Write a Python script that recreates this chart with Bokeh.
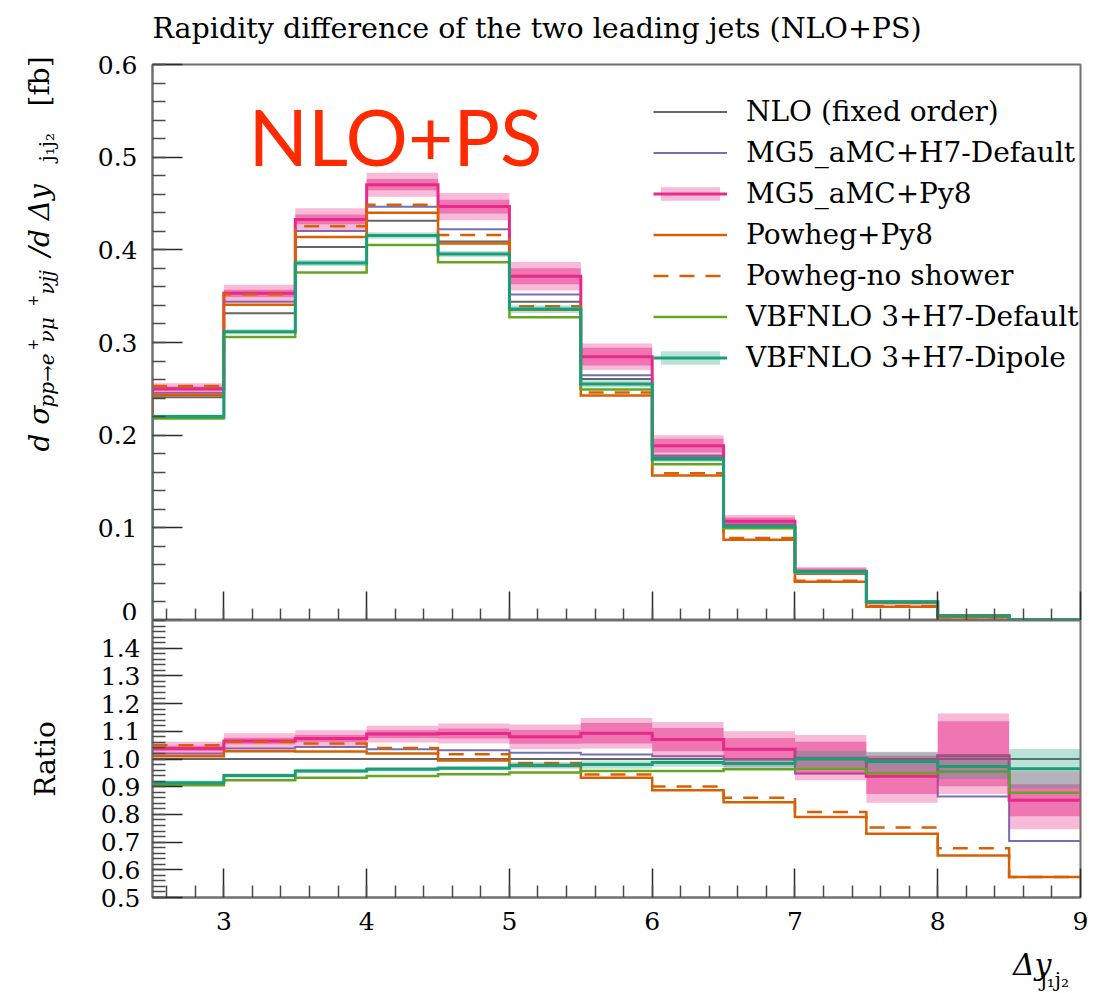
import numpy as np
from bokeh.plotting import figure
from bokeh.layouts import column, row
from bokeh.models import (Range1d, FixedTicker, Legend, LegendItem, Label,
                          PrintfTickFormatter)
from bokeh.core.properties import value
from bokeh.embed import file_html
from bokeh.resources import INLINE

# ---- data -------------------------------------------------------------
# rapidity-difference bins of the two leading jets
bin_edges = [2.5, 3.0, 3.5, 4.0, 4.5, 5.0, 5.5, 6.0, 6.5, 7.0, 7.5, 8.0, 8.5, 9.0]

# NLO fixed-order differential cross section [fb]
nlo_xsec = [0.241, 0.3315, 0.403, 0.4315, 0.409, 0.344, 0.2605,
            0.1763, 0.1034, 0.053, 0.0205, 0.0052, 0.0008]

# predictions as ratios to the NLO fixed-order result
ratio_mg5_h7 = [1.020, 1.038, 1.043, 1.035, 1.032, 1.023, 1.016,
                1.010, 0.998, 0.948, 0.950, 0.865, 0.704]
ratio_mg5_py8 = [1.038, 1.065, 1.074, 1.090, 1.092, 1.080, 1.093,
                 1.070, 1.035, 1.003, 0.938, 1.012, 0.851]
ratio_powheg_py8 = [1.010, 1.028, 1.027, 1.020, 0.995, 0.975, 0.932,
                    0.887, 0.844, 0.791, 0.730, 0.652, 0.574]
ratio_powheg_noshower = [1.050, 1.062, 1.056, 1.040, 1.017, 0.986, 0.944,
                         0.901, 0.860, 0.809, 0.753, 0.678, 0.574]
ratio_vbfnlo_default = [0.905, 0.923, 0.932, 0.939, 0.945, 0.951, 0.957,
                        0.957, 0.963, 0.965, 0.949, 0.955, 0.878]
ratio_vbfnlo_dipole = [0.914, 0.940, 0.957, 0.963, 0.967, 0.977, 0.980,
                       0.987, 0.984, 1.000, 0.991, 0.973, 0.965]

# uncertainty envelopes (ratio to NLO)
mg5_py8_outer_lo = [1.014, 1.037, 1.044, 1.060, 1.056, 1.035, 1.038,
                    1.006, 0.970, 0.923, 0.842, 0.874, 0.746]
mg5_py8_outer_hi = [1.062, 1.093, 1.104, 1.120, 1.128, 1.125, 1.148,
                    1.134, 1.100, 1.087, 1.024, 1.164, 0.956]
mg5_py8_inner_lo = [1.028, 1.053, 1.061, 1.076, 1.074, 1.055, 1.056,
                    1.028, 0.994, 0.944, 0.874, 0.902, 0.793]
mg5_py8_inner_hi = [1.048, 1.077, 1.087, 1.104, 1.110, 1.105, 1.130,
                    1.112, 1.076, 1.062, 1.012, 1.136, 0.909]
dipole_lo = [0.906, 0.932, 0.949, 0.955, 0.959, 0.965, 0.965,
             0.972, 0.966, 0.970, 0.956, 0.928, 0.894]
dipole_hi = [0.922, 0.948, 0.965, 0.971, 0.975, 0.989, 0.995,
             1.002, 1.002, 1.030, 1.026, 1.018, 1.036]

# axis ticks
x_major_ticks = [3, 4, 5, 6, 7, 8, 9]
top_y_ticks = [0.0, 0.1, 0.2, 0.3, 0.4, 0.5, 0.6]
ratio_y_ticks = [0.5, 0.6, 0.7, 0.8, 0.9, 1.0, 1.1, 1.2, 1.3, 1.4]

# ---- styling ----------------------------------------------------------
C_NLO = "#666666"
C_MG5_H7 = "#7570b3"
C_MG5_PY8 = "#e7298a"
C_POWHEG = "#d95f02"
C_VBF_DEF = "#66a61e"
C_VBF_DIP = "#1b9e77"
FRAME = "#707070"
SERIF = "DejaVu Serif"
TICK_FS = "25px"

# page geometry (px)
TITLE_H = 46          # strip with the plot title
LEFT_W = 140          # strip with the upper y-axis title and tick labels
FRAME_W = 928
TOP_FRAME_H = 556
TOP_BORDER = 18
TOP_H = TOP_BORDER + TOP_FRAME_H
RAT_FRAME_H = 277
RAT_BOTTOM = 54
XLAB_H = 993 - TITLE_H - TOP_H - RAT_FRAME_H - RAT_BOTTOM
PAGE_W = LEFT_W + 12 + FRAME_W + 24

x_minor_ticks = [round(v, 1) for v in np.arange(2.6, 9.0, 0.2)]
top_y_minor = [round(v, 2) for v in np.arange(0.0, 0.601, 0.02)]
ratio_y_minor = [round(v, 2) for v in np.arange(0.5, 1.501, 0.02)]

edges = np.array(bin_edges)
nlo = np.array(nlo_xsec)


def step_path(vals, drop=False):
    xs, ys = [], []
    for i, v in enumerate(vals):
        xs += [edges[i], edges[i + 1]]
        ys += [v, v]
    if drop:
        xs = [edges[0]] + xs + [edges[-1]]
        ys = [0.0] + ys + [0.0]
    return xs, ys


def style(p, y_ticks, y_minor):
    p.xgrid.visible = False
    p.ygrid.visible = False
    p.outline_line_color = FRAME
    p.outline_line_width = 2
    p.xaxis.ticker = FixedTicker(ticks=x_major_ticks, minor_ticks=x_minor_ticks)
    p.yaxis.ticker = FixedTicker(ticks=y_ticks, minor_ticks=y_minor)
    for ax in (p.xaxis[0], p.yaxis[0]):
        ax.axis_line_color = FRAME
        ax.axis_line_width = 2
        ax.major_tick_out = 0
        ax.minor_tick_out = 0
        ax.major_tick_line_color = "#2a2a2a"
        ax.major_tick_line_width = 1.5
        ax.minor_tick_line_color = "#4a4a4a"
        ax.minor_tick_line_width = 1.5
        ax.major_label_text_font = SERIF
        ax.major_label_text_font_size = TICK_FS
        ax.major_label_text_color = "black"
    p.yaxis.major_tick_in = 30
    p.yaxis.minor_tick_in = 13
    p.xaxis.major_tick_in = 29
    p.xaxis.minor_tick_in = 12


def bare(width, height, x_range, y_range):
    # plain drawing strip whose frame fills the whole canvas
    p = figure(width=width, height=height, x_range=x_range, y_range=y_range,
               output_backend="svg", toolbar_location=None, min_border=0,
               x_axis_location=None, y_axis_location=None, title=None,
               background_fill_color="white", border_fill_color="white")
    p.frame_align = False
    p.xgrid.visible = False
    p.ygrid.visible = False
    p.outline_line_color = None
    return p


# ---- title strip --------------------------------------------------------
head = bare(PAGE_W, TITLE_H, Range1d(0, PAGE_W), Range1d(0, TITLE_H))
head.text(x=[LEFT_W + 12], y=[18], text=["Rapidity difference of the two leading jets (NLO+PS)"],
          text_align="left", text_baseline="alphabetic", text_font=value(SERIF),
          text_font_size="28.5px", text_color="black")

# ---- upper panel: cross sections --------------------------------------
top = figure(frame_width=FRAME_W, frame_height=TOP_FRAME_H,
             x_range=Range1d(2.5, 9.0), y_range=Range1d(0.0, 0.6),
             output_backend="svg", toolbar_location=None, title=None,
             min_border_left=12, min_border_right=24,
             min_border_top=TOP_BORDER, min_border_bottom=0,
             background_fill_color="white", border_fill_color="white")
style(top, top_y_ticks, top_y_minor)
top.yaxis.major_label_overrides = {t: "" for t in top_y_ticks}
top.xaxis.major_label_overrides = {t: "" for t in x_major_ticks}
top.yaxis.major_label_standoff = 0
top.xaxis.major_label_standoff = 0

r_nlo = top.line(*step_path(nlo, True), line_color=C_NLO, line_width=2, line_join="miter")
r_h7 = top.line(*step_path(nlo * ratio_mg5_h7, True), line_color=C_MG5_H7,
                line_width=2, line_join="miter")
r_py8_band = top.quad(left=edges[:-1], right=edges[1:],
                      bottom=nlo * mg5_py8_outer_lo, top=nlo * mg5_py8_outer_hi,
                      fill_color=C_MG5_PY8, fill_alpha=0.32, line_color=None)
top.quad(left=edges[:-1], right=edges[1:],
         bottom=nlo * mg5_py8_inner_lo, top=nlo * mg5_py8_inner_hi,
         fill_color=C_MG5_PY8, fill_alpha=0.48, line_color=None)
r_py8 = top.line(*step_path(nlo * ratio_mg5_py8, True), line_color=C_MG5_PY8,
                 line_width=3, line_join="miter")
r_pw = top.line(*step_path(nlo * ratio_powheg_py8, True), line_color=C_POWHEG,
                line_width=2.5, line_join="miter")
r_pwns = top.line(*step_path(nlo * ratio_powheg_noshower, True), line_color=C_POWHEG,
                  line_width=2.5, line_dash="15 11", line_join="miter")
r_vdef = top.line(*step_path(nlo * ratio_vbfnlo_default, True), line_color=C_VBF_DEF,
                  line_width=2.5, line_join="miter")
r_vdip_band = top.quad(left=edges[:-1], right=edges[1:],
                       bottom=nlo * dipole_lo, top=nlo * dipole_hi,
                       fill_color=C_VBF_DIP, fill_alpha=0.3, line_color=None)
r_vdip = top.line(*step_path(nlo * ratio_vbfnlo_dipole, True), line_color=C_VBF_DIP,
                  line_width=3, line_join="miter")

legend = Legend(items=[
    LegendItem(label="NLO (fixed order)", renderers=[r_nlo]),
    LegendItem(label="MG5_aMC+H7-Default", renderers=[r_h7]),
    LegendItem(label="MG5_aMC+Py8", renderers=[r_py8_band, r_py8]),
    LegendItem(label="Powheg+Py8", renderers=[r_pw]),
    LegendItem(label="Powheg-no shower", renderers=[r_pwns]),
    LegendItem(label="VBFNLO 3+H7-Default", renderers=[r_vdef]),
    LegendItem(label="VBFNLO 3+H7-Dipole", renderers=[r_vdip_band, r_vdip]),
], location=(501, 246), orientation="vertical",
    label_text_font=SERIF, label_text_font_size="28px", label_text_color="black",
    glyph_width=74, glyph_height=17, label_height=33, label_standoff=19,
    spacing=8, padding=0, margin=0, border_line_color=None,
    background_fill_alpha=0.0)
top.add_layout(legend)

top.add_layout(Label(x=96, y=485, x_units="screen", y_units="screen", text="NLO+PS",
                     text_font="Lato", text_font_size="78px",
                     text_color="#ff2a00", text_baseline="alphabetic"))

# ---- left strip: upper y-axis tick labels and title ---------------------
# "px" counts pixels up from the strip's bottom edge (= upper frame bottom);
# the default y range is the upper panel's cross-section scale
ylab = bare(LEFT_W, TOP_H, Range1d(0, LEFT_W),
            Range1d(0.0, 0.6 * TOP_H / TOP_FRAME_H))
ylab.extra_y_ranges = {"px": Range1d(0, TOP_H)}
tick_txt = [f"{t:.1f}" for t in top_y_ticks[1:]]
ylab.text(x=[LEFT_W - 3] * len(tick_txt), y=top_y_ticks[1:], text=tick_txt,
          text_align="right", text_baseline="middle",
          text_font=value(SERIF), text_font_size=TICK_FS, text_color="black")
ylab.text(x=[LEFT_W - 3], y=[top_y_ticks[0]], text=["0"],
          text_align="right", text_baseline="bottom",
          text_font=value(SERIF), text_font_size=TICK_FS, text_color="black")

# d sigma_{pp -> e+ nu mu+ nu jj} / d Delta y_{j1 j2} [fb], reading upwards
title_pieces = [
    # text, baseline x, start (px above frame bottom), size, italic
    ("d σ", 39, 169, 28, True),
    ("pp→e", 46, 213, 20, True),
    ("+", 32, 270, 14, False),
    ("νμ", 46, 278, 20, True),
    ("+", 32, 314, 14, False),
    ("νjj", 46, 326, 20, True),
    ("/d Δy", 39, 364, 28, True),
    ("j₁j₂", 46, 459, 20, False),
    ("[fb]", 39, 514, 28, False),
]
for txt, bx, by, fs, it in title_pieces:
    ylab.text(x=[bx], y=[by], text=[txt], angle=np.pi / 2, y_range_name="px",
              text_align="left", text_baseline="alphabetic",
              text_font=value(SERIF), text_font_size=f"{fs}px",
              text_font_style="italic" if it else "normal", text_color="black")

# ---- lower panel: ratios ------------------------------------------------
rat = figure(frame_width=FRAME_W, frame_height=RAT_FRAME_H,
             x_range=top.x_range, y_range=Range1d(0.5, 1.5),
             output_backend="svg", toolbar_location=None, title=None,
             min_border_left=LEFT_W + 12, min_border_right=24,
             min_border_top=0, min_border_bottom=RAT_BOTTOM,
             background_fill_color="white", border_fill_color="white")
style(rat, ratio_y_ticks, ratio_y_minor)
rat.yaxis.formatter = PrintfTickFormatter(format="%.1f")
rat.yaxis.major_label_standoff = 12
rat.xaxis.major_label_standoff = 14
rat.yaxis.axis_label = "Ratio"
rat.yaxis.axis_label_text_font = SERIF
rat.yaxis.axis_label_text_font_size = "28px"
rat.yaxis.axis_label_text_font_style = "normal"
rat.yaxis.axis_label_text_color = "black"
rat.yaxis.axis_label_standoff = 36

ones = np.ones_like(nlo)
rat.line(*step_path(ones), line_color=C_NLO, line_width=2, line_join="miter")
rat.line(*step_path(ratio_mg5_h7), line_color=C_MG5_H7, line_width=2, line_join="miter")
rat.quad(left=edges[:-1], right=edges[1:], bottom=mg5_py8_outer_lo, top=mg5_py8_outer_hi,
         fill_color=C_MG5_PY8, fill_alpha=0.32, line_color=None)
rat.quad(left=edges[:-1], right=edges[1:], bottom=mg5_py8_inner_lo, top=mg5_py8_inner_hi,
         fill_color=C_MG5_PY8, fill_alpha=0.48, line_color=None)
rat.line(*step_path(ratio_mg5_py8), line_color=C_MG5_PY8, line_width=3, line_join="miter")
rat.line(*step_path(ratio_powheg_py8), line_color=C_POWHEG, line_width=2.5, line_join="miter")
rat.line(*step_path(ratio_powheg_noshower), line_color=C_POWHEG, line_width=2.5,
         line_dash="15 11", line_join="miter")
rat.line(*step_path(ratio_vbfnlo_default), line_color=C_VBF_DEF, line_width=2.5,
         line_join="miter")
rat.quad(left=edges[:-1], right=edges[1:], bottom=dipole_lo, top=dipole_hi,
         fill_color=C_VBF_DIP, fill_alpha=0.3, line_color=None)
rat.line(*step_path(ratio_vbfnlo_dipole), line_color=C_VBF_DIP, line_width=3,
         line_join="miter")

# ---- bottom strip: x-axis title  Delta y_{j1 j2} -------------------------
xlab = bare(PAGE_W, XLAB_H, Range1d(0, PAGE_W), Range1d(0, XLAB_H))
xlab.text(x=[1051], y=[XLAB_H - 13], text=["Δy"], text_align="right",
          text_baseline="alphabetic", text_font=value(SERIF),
          text_font_size="30px", text_font_style="italic", text_color="black")
xlab.text(x=[1040], y=[XLAB_H - 28], text=["j₁j₂"], text_align="left",
          text_baseline="alphabetic", text_font=value(SERIF),
          text_font_size="20px", text_color="black")

layout = column(head, row(ylab, top, spacing=0), rat, xlab, spacing=0)
open("out.html", "w").write(file_html(layout, INLINE))
